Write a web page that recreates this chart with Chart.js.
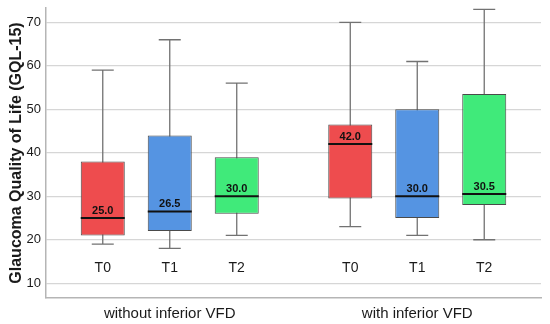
<!DOCTYPE html>
<html>
<head>
<meta charset="utf-8">
<script src="https://cdn.jsdelivr.net/npm/chart.js@4/dist/chart.umd.min.js"></script>
<style>
  body { margin: 0; background: #fff; }
  canvas { display: block; }
</style>
</head>
<body>
<canvas id="boxChart" width="550" height="324"></canvas>
<script>
// groups on the x axis, time points as series
const groups = ['without inferior VFD', 'with inferior VFD'];
const timePoints = ['T0', 'T1', 'T2'];
const boxColors = ['#ee4c4e', '#5594e2', '#40ea7a'];

// box plot stats, [series][group]
const lowWhisker  = [[19, 23],   [18, 21],   [21, 20]];
const q1          = [[21, 29.5], [22, 25],   [26, 28]];
const median      = [[25, 42],   [26.5, 30], [30, 30.5]];
const q3          = [[38, 46.5], [44, 50],   [39, 53.5]];
const highWhisker = [[59, 70],   [66, 61],   [56, 73]];

const yTicks = [10, 20, 30, 40, 50, 60, 70];
const timeLabelValue = 13.4;

const FONT = '"Liberation Sans", Arial, sans-serif';

const boxPlugin = {
    id: 'boxExtras',
    beforeDatasetsDraw(chart) {
        const ctx = chart.ctx;
        const y = chart.scales.y;
        ctx.save();
        ctx.strokeStyle = '#727272';
        ctx.lineWidth = 1.3;
        timePoints.forEach((t, i) => {
            chart.getDatasetMeta(i).data.forEach((bar, j) => {
                const cap = bar.width * 0.25;
                const yLo = y.getPixelForValue(lowWhisker[i][j]);
                const yHi = y.getPixelForValue(highWhisker[i][j]);
                ctx.beginPath();
                ctx.moveTo(bar.x, yLo);
                ctx.lineTo(bar.x, yHi);
                ctx.moveTo(bar.x - cap, yLo);
                ctx.lineTo(bar.x + cap, yLo);
                ctx.moveTo(bar.x - cap, yHi);
                ctx.lineTo(bar.x + cap, yHi);
                ctx.stroke();
            });
        });
        ctx.restore();
    },
    afterDatasetsDraw(chart) {
        const ctx = chart.ctx;
        const y = chart.scales.y;
        ctx.save();
        timePoints.forEach((t, i) => {
            chart.getDatasetMeta(i).data.forEach((bar, j) => {
                const half = bar.width / 2;
                const yMed = y.getPixelForValue(median[i][j]);
                ctx.strokeStyle = '#111';
                ctx.lineWidth = 2;
                ctx.beginPath();
                ctx.moveTo(bar.x - half, yMed);
                ctx.lineTo(bar.x + half, yMed);
                ctx.stroke();

                ctx.fillStyle = '#111';
                ctx.font = 'bold 11px ' + FONT;
                ctx.textAlign = 'center';
                ctx.textBaseline = 'bottom';
                ctx.fillText(median[i][j].toFixed(1), bar.x, yMed - 2);

                ctx.font = '14px ' + FONT;
                ctx.textBaseline = 'middle';
                ctx.fillStyle = '#1a1a1a';
                ctx.fillText(t, bar.x, y.getPixelForValue(timeLabelValue));
            });
        });
        ctx.restore();
    }
};

const ctx = document.getElementById('boxChart').getContext('2d');
new Chart(ctx, {
    type: 'bar',
    data: {
        labels: groups,
        datasets: timePoints.map((t, i) => ({
            label: t,
            data: q1[i].map((lo, j) => [lo, q3[i][j]]),
            backgroundColor: boxColors[i],
            borderColor: '#4a4a4a',
            borderWidth: 1,
            borderSkipped: false,
            categoryPercentage: 0.812,
            barPercentage: 0.657
        }))
    },
    options: {
        responsive: false,
        animation: false,
        layout: { padding: { top: 8, right: 9, left: 0, bottom: 0 } },
        plugins: {
            legend: { display: false },
            tooltip: { enabled: false }
        },
        scales: {
            x: {
                afterFit: s => { s.height = 26; },
                grid: { display: false, drawTicks: false },
                border: { color: '#b5b5b5', width: 1.5 },
                ticks: {
                    color: '#1a1a1a',
                    padding: 7,
                    font: { family: FONT, size: 15 }
                }
            },
            y: {
                min: 6.6,
                max: 73.3,
                afterBuildTicks: s => { s.ticks = yTicks.map(v => ({ value: v })); },
                afterFit: s => { s.width = 46; s.paddingTop = 0; s.paddingBottom = 0; },
                grid: { color: '#d6d6d6', lineWidth: 1.2, drawTicks: false },
                border: { color: '#b5b5b5', width: 1.5 },
                ticks: {
                    color: '#1a1a1a',
                    padding: 5,
                    font: { family: FONT, size: 13 }
                },
                title: {
                    display: true,
                    text: 'Glaucoma Quality of Life (GQL-15)',
                    color: '#1a1a1a',
                    padding: { top: 7, bottom: 0 },
                    font: { family: FONT, size: 16, weight: 'bold' }
                }
            }
        }
    },
    plugins: [boxPlugin]
});
</script>
</body>
</html>
